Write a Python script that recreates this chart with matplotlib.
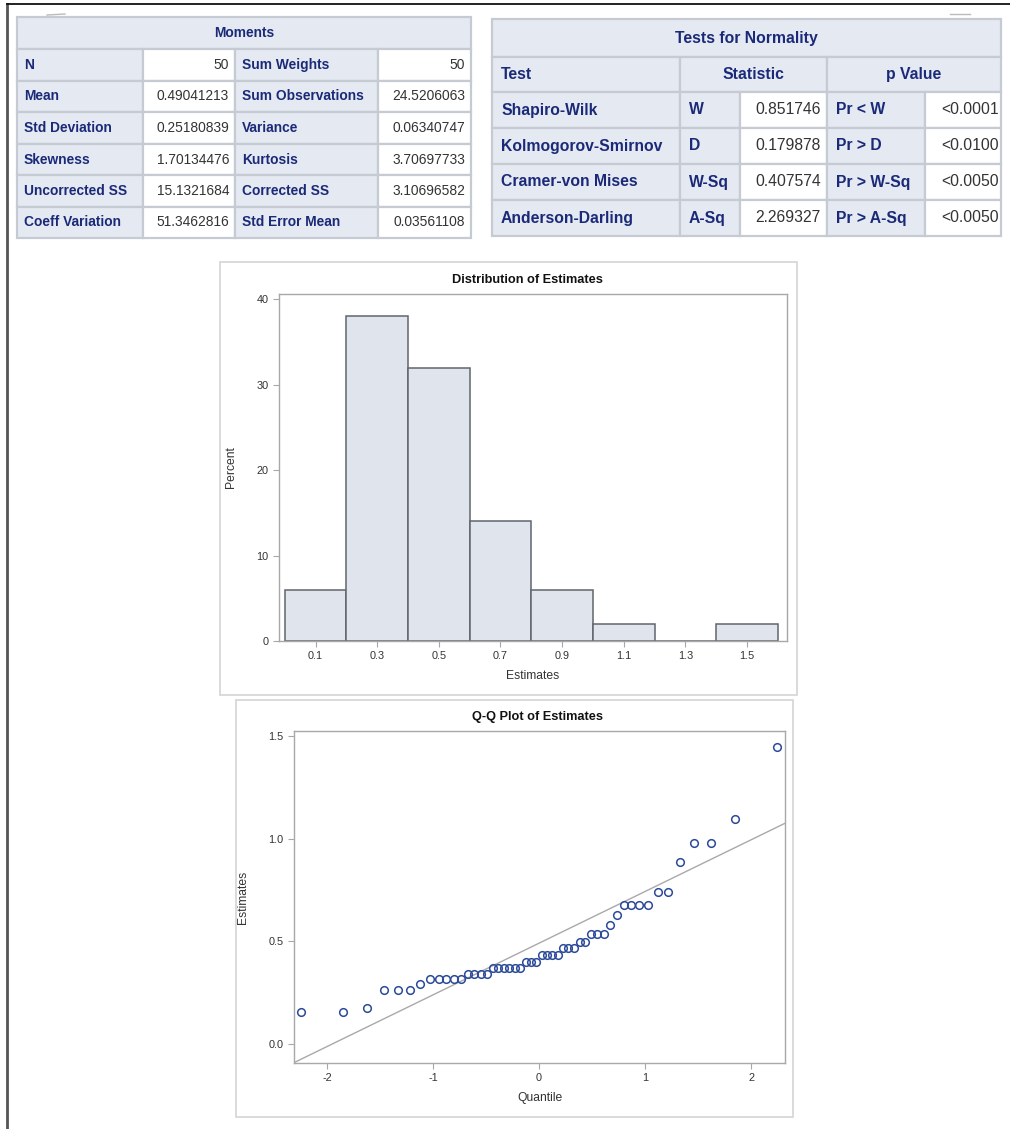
import numpy as np
import matplotlib
matplotlib.use("Agg")
import matplotlib.pyplot as plt
from matplotlib.patches import Rectangle

plt.rcParams['font.family'] = ['Liberation Sans', 'DejaVu Sans']
plt.rcParams['axes.unicode_minus'] = False

# ---- data ----
moment_labels_1 = ['N', 'Mean', 'Std Deviation', 'Skewness', 'Uncorrected SS', 'Coeff Variation']
moment_values_1 = ['50', '0.49041213', '0.25180839', '1.70134476', '15.1321684', '51.3462816']
moment_labels_2 = ['Sum Weights', 'Sum Observations', 'Variance', 'Kurtosis', 'Corrected SS', 'Std Error Mean']
moment_values_2 = ['50', '24.5206063', '0.06340747', '3.70697733', '3.10696582', '0.03561108']

test_names = ['Shapiro-Wilk', 'Kolmogorov-Smirnov', 'Cramer-von Mises', 'Anderson-Darling']
stat_names = ['W', 'D', 'W-Sq', 'A-Sq']
stat_values = ['0.851746', '0.179878', '0.407574', '2.269327']
p_names = ['Pr < W', 'Pr > D', 'Pr > W-Sq', 'Pr > A-Sq']
p_values = ['<0.0001', '<0.0100', '<0.0050', '<0.0050']

bin_left = [0.0, 0.2, 0.4, 0.6, 0.8, 1.0, 1.2, 1.4]
bin_percent = [6, 38, 32, 14, 6, 2, 0, 2]
hist_ticks = [0.1, 0.3, 0.5, 0.7, 0.9, 1.1, 1.3, 1.5]

# normal quantiles (Blom) and sorted estimates
quantiles = [-2.240, -1.847, -1.624, -1.460, -1.328, -1.216, -1.118, -1.029, -0.947, -0.872,
             -0.801, -0.734, -0.670, -0.609, -0.551, -0.493, -0.438, -0.383, -0.330, -0.278,
             -0.227, -0.176, -0.125, -0.075, -0.025, 0.025, 0.075, 0.125, 0.176, 0.227,
             0.278, 0.330, 0.383, 0.438, 0.493, 0.551, 0.609, 0.670, 0.734, 0.801,
             0.872, 0.947, 1.029, 1.118, 1.216, 1.328, 1.460, 1.624, 1.847, 2.240]
estimates = [0.156, 0.156, 0.175, 0.264, 0.264, 0.264, 0.292, 0.318, 0.318, 0.318,
             0.318, 0.318, 0.342, 0.342, 0.342, 0.342, 0.371, 0.371, 0.371, 0.371,
             0.371, 0.371, 0.400, 0.400, 0.400, 0.431, 0.431, 0.431, 0.431, 0.465,
             0.465, 0.465, 0.498, 0.498, 0.537, 0.537, 0.537, 0.579, 0.626, 0.678,
             0.678, 0.678, 0.678, 0.738, 0.738, 0.885, 0.978, 0.978, 1.093, 1.448]
mu = 0.49041213
sigma = 0.25180839

# ---- style ----
W, H = 1010, 1129
NAVY = '#1b2a78'
HEAD_BG = '#e5e9f2'
GRID = '#c6cad2'
AXC = '#a8a8a8'
TXT = '#333333'

fig = plt.figure(figsize=(W / 100, H / 100), dpi=100)
fig.patch.set_facecolor('white')

# pixel-space canvas for tables and frames
cv = fig.add_axes([0, 0, 1, 1])
cv.set_xlim(0, W)
cv.set_ylim(H, 0)
cv.axis('off')


def cell(x0, x1, y0, y1, bg):
    cv.add_patch(Rectangle((x0, y0), x1 - x0, y1 - y0, facecolor=bg,
                           edgecolor=GRID, lw=1.6))


# page border
cv.plot([7, 7], [4, H], color='#555555', lw=2)
cv.plot([7, W], [4, 4], color='#111111', lw=1.3)
cv.plot([47, 65], [15, 14], color='#bbbbbb', lw=1)
cv.plot([950, 970], [14, 14], color='#bbbbbb', lw=1)

# Moments table
mx = [17, 143, 235, 378, 471]
my = [17, 49, 81, 112, 144, 175, 207, 238]
fs_m = 9.9
cell(mx[0], mx[-1], my[0], my[1], HEAD_BG)
cv.text((mx[0] + mx[-1]) / 2, (my[0] + my[1]) / 2, 'Moments', color=NAVY,
        fontsize=fs_m, fontweight='bold', ha='center', va='center')
for i in range(6):
    y0, y1 = my[i + 1], my[i + 2]
    yc = (y0 + y1) / 2
    cell(mx[0], mx[1], y0, y1, HEAD_BG)
    cell(mx[1], mx[2], y0, y1, 'white')
    cell(mx[2], mx[3], y0, y1, HEAD_BG)
    cell(mx[3], mx[4], y0, y1, 'white')
    cv.text(mx[0] + 7, yc, moment_labels_1[i], color=NAVY, fontsize=fs_m,
            fontweight='bold', ha='left', va='center')
    cv.text(mx[2] - 6, yc, moment_values_1[i], color=TXT, fontsize=fs_m,
            ha='right', va='center')
    cv.text(mx[2] + 7, yc, moment_labels_2[i], color=NAVY, fontsize=fs_m,
            fontweight='bold', ha='left', va='center')
    cv.text(mx[4] - 6, yc, moment_values_2[i], color=TXT, fontsize=fs_m,
            ha='right', va='center')

# Tests for Normality table
tx = [492, 680, 740, 827, 925, 1001]
ty = [19, 57, 92, 128, 164, 200, 236]
fs_t = 11.3
cell(tx[0], tx[-1], ty[0], ty[1], HEAD_BG)
cv.text((tx[0] + tx[-1]) / 2, (ty[0] + ty[1]) / 2, 'Tests for Normality', color=NAVY,
        fontsize=fs_t, fontweight='bold', ha='center', va='center')
yc = (ty[1] + ty[2]) / 2
cell(tx[0], tx[1], ty[1], ty[2], HEAD_BG)
cell(tx[1], tx[3], ty[1], ty[2], HEAD_BG)
cell(tx[3], tx[5], ty[1], ty[2], HEAD_BG)
cv.text(tx[0] + 9, yc, 'Test', color=NAVY, fontsize=fs_t, fontweight='bold',
        ha='left', va='center')
cv.text((tx[1] + tx[3]) / 2, yc, 'Statistic', color=NAVY, fontsize=fs_t,
        fontweight='bold', ha='center', va='center')
cv.text((tx[3] + tx[5]) / 2, yc, 'p Value', color=NAVY, fontsize=fs_t,
        fontweight='bold', ha='center', va='center')
for i in range(4):
    y0, y1 = ty[i + 2], ty[i + 3]
    yc = (y0 + y1) / 2
    cell(tx[0], tx[1], y0, y1, HEAD_BG)
    cell(tx[1], tx[2], y0, y1, HEAD_BG)
    cell(tx[2], tx[3], y0, y1, 'white')
    cell(tx[3], tx[4], y0, y1, HEAD_BG)
    cell(tx[4], tx[5], y0, y1, 'white')
    cv.text(tx[0] + 9, yc, test_names[i], color=NAVY, fontsize=fs_t,
            fontweight='bold', ha='left', va='center')
    cv.text(tx[1] + 9, yc, stat_names[i], color=NAVY, fontsize=fs_t,
            fontweight='bold', ha='left', va='center')
    cv.text(tx[3] - 6, yc, stat_values[i], color=TXT, fontsize=fs_t,
            ha='right', va='center')
    cv.text(tx[3] + 9, yc, p_names[i], color=NAVY, fontsize=fs_t,
            fontweight='bold', ha='left', va='center')
    cv.text(tx[5] - 2, yc, p_values[i], color=TXT, fontsize=fs_t,
            ha='right', va='center')

# graph frames
cv.add_patch(Rectangle((220, 262), 577, 433, facecolor='none', edgecolor='#d4d4d4', lw=1.2))
cv.add_patch(Rectangle((236, 700), 557, 417, facecolor='none', edgecolor='#d4d4d4', lw=1.2))


def px_axes(x0, x1, y0, y1):
    return fig.add_axes([x0 / W, 1 - y1 / H, (x1 - x0) / W, (y1 - y0) / H])


def style(ax):
    for s in ax.spines.values():
        s.set_color(AXC)
        s.set_linewidth(1)
    ax.tick_params(colors=AXC, labelcolor=TXT, labelsize=7.8, length=4, width=0.8)


# histogram
ax1 = px_axes(279, 787, 294, 641)
ax1.bar([b + 0.1 for b in bin_left], bin_percent, width=0.2, color='#e0e4ec',
        edgecolor='#61666e', linewidth=1.1)
ax1.set_xlim(-0.019, 1.63)
ax1.set_ylim(0, 40.6)
ax1.set_xticks(hist_ticks)
ax1.set_xticklabels(['%.1f' % v for v in hist_ticks])
ax1.set_yticks([0, 10, 20, 30, 40])
style(ax1)
ax1.set_xlabel('Estimates', fontsize=8.7, color=TXT, labelpad=6)
ax1.set_ylabel('Percent', fontsize=8.7, color=TXT, labelpad=14)
cv.text(527, 280, 'Distribution of Estimates', fontsize=9.2, fontweight='bold',
        ha='center', va='center', color='#111111')

# Q-Q plot
ax2 = px_axes(294, 785, 731, 1063)
xl = np.array([-2.31, 2.32])
ax2.plot(xl, mu + sigma * xl, color='#a9a9a9', lw=1)
ax2.plot(quantiles, estimates, 'o', mfc='none', mec='#2c4a9a', ms=5.5, mew=1.1)
ax2.set_xlim(-2.31, 2.32)
ax2.set_ylim(-0.093, 1.524)
ax2.set_xticks([-2, -1, 0, 1, 2])
ax2.set_yticks([0.0, 0.5, 1.0, 1.5])
ax2.set_yticklabels(['0.0', '0.5', '1.0', '1.5'])
style(ax2)
ax2.set_xlabel('Quantile', fontsize=8.7, color=TXT, labelpad=6)
ax2.set_ylabel('Estimates', fontsize=8.7, color=TXT, labelpad=14)
cv.text(538, 717, 'Q-Q Plot of Estimates', fontsize=9.2, fontweight='bold',
        ha='center', va='center', color='#111111')

fig.savefig('out.png', dpi=100)
